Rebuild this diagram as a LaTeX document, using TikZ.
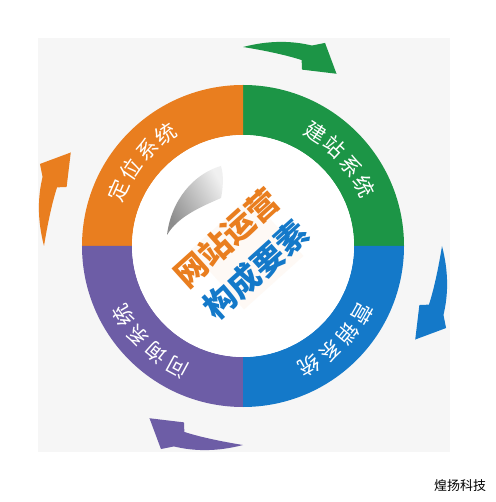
\documentclass[tikz,border=0pt]{standalone}
\usepackage{fontspec}
\newfontfamily\cjk{Noto Sans CJK SC}
\usetikzlibrary{calc}

\definecolor{ringorange}{HTML}{E97E1F}
\definecolor{ringgreen}{HTML}{1C9546}
\definecolor{ringblue}{HTML}{1479C9}
\definecolor{ringpurple}{HTML}{6D5DA6}
\definecolor{panelgray}{HTML}{F6F6F6}

\pgfdeclareradialshading{dome}{\pgfpoint{0bp}{0bp}}{color(0bp)=(white); color(30bp)=(white); color(42bp)=(black!9); color(47bp)=(white); color(50bp)=(white)}

\newcommand{\cyclearrow}[2]{%
  \fill[#1, rotate=#2] (90:199) .. controls (83:207) and (77:211) .. (71:212) -- (68:219) -- (61.5:196) -- (71.5:186) -- (72.5:195) .. controls (78:196) and (85:197) .. (90:199) -- cycle;}

\begin{document}
\begin{tikzpicture}[x=1pt, y=1pt,
  ringlabel/.style={text=white, font=\cjk\fontsize{21}{21}\selectfont, inner sep=0pt},
  centertext/.style={font=\cjk\bfseries\fontsize{32}{32}\selectfont, inner sep=0pt, rotate=42}]
  \useasboundingbox (-243,-256) rectangle (252,246);
  \fill[panelgray] (-205,208) rectangle (207,-206);
  \fill[ringgreen] (0:161) arc[start angle=0, end angle=90, radius=161] -- (90:111) arc[start angle=90, end angle=0, radius=111] -- cycle;
  \fill[ringorange] (90:161) arc[start angle=90, end angle=180, radius=161] -- (180:111) arc[start angle=180, end angle=90, radius=111] -- cycle;
  \fill[ringpurple] (180:161) arc[start angle=180, end angle=270, radius=161] -- (270:111) arc[start angle=270, end angle=180, radius=111] -- cycle;
  \fill[ringblue] (270:161) arc[start angle=270, end angle=360, radius=161] -- (0:111) arc[start angle=360, end angle=270, radius=111] -- cycle;
  \shade[shading=dome] (0,0) circle[radius=111];
  \fill[ringorange!60, opacity=0.07, rotate around={42:(4,-7)}] (-36,-47) rectangle (44,33);
  \shade[left color=black!45, right color=black!6, shading angle=120] (-76,11) .. controls (-72,45) and (-50,72) .. (-22,80) .. controls (-19,70) and (-20,58) .. (-22,48) .. controls (-40,40) and (-65,30) .. (-76,11) -- cycle;
  \cyclearrow{ringgreen}{0}
  \cyclearrow{ringblue}{-90}
  \cyclearrow{ringpurple}{-180}
  \cyclearrow{ringorange}{90}
  \foreach \c [count=\i] in {定,位,系,统} {
    \pgfmathsetmacro\ang{156-10.5*(\i-1)}
    \node[ringlabel, rotate=\ang-90] (dw\i) at (\ang:136) {\c};
  }
  \foreach \c [count=\i] in {建,站,系,统} {
    \pgfmathsetmacro\ang{57.5-10.5*(\i-1)}
    \node[ringlabel, rotate=\ang-90] (jz\i) at (\ang:135) {\c};
  }
  \foreach \c [count=\i] in {营,销,系,统} {
    \pgfmathsetmacro\ang{-29.5-10.5*(\i-1)}
    \node[ringlabel, rotate=\ang-90] (yx\i) at (\ang:137) {\c};
  }
  \foreach \c [count=\i] in {问,询,系,统} {
    \pgfmathsetmacro\ang{-118.5-10.5*(\i-1)}
    \node[ringlabel, rotate=\ang-90] (wx\i) at (\ang:138) {\c};
  }
  \node[centertext, text=ringorange] (wzyy) at (-16,8) {网站运营};
  \node[centertext, text=ringblue] (gcys) at (13,-24) {构成要素};
  \node[font=\cjk\fontsize{13}{13}\selectfont, inner sep=0pt] (hykj) at (217,-240) {煌扬科技};
\end{tikzpicture}
\end{document}
